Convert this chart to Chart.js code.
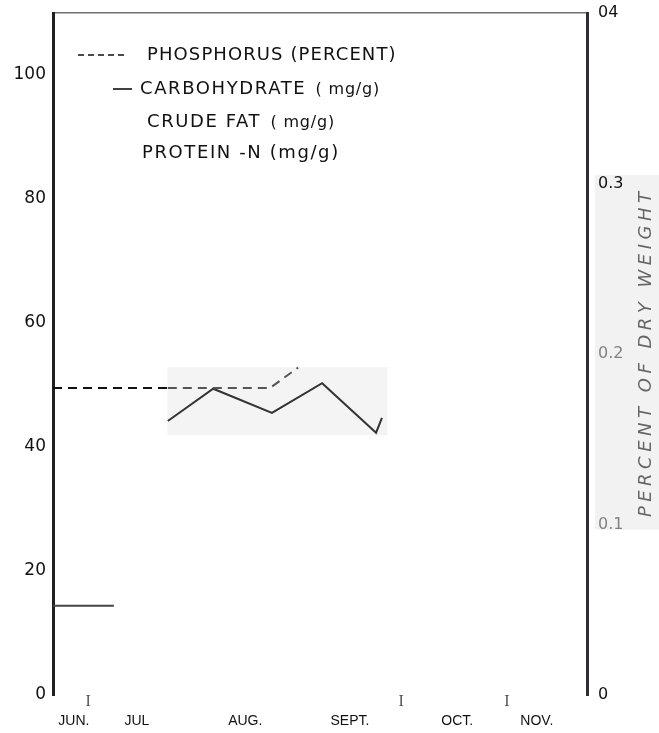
<!DOCTYPE html>
<html>
<head>
<meta charset="utf-8">
<script src="https://cdn.jsdelivr.net/npm/chart.js@4.4.1/dist/chart.umd.min.js"></script>
<style>
  html, body { margin: 0; padding: 0; background: #fff; }
</style>
</head>
<body>
<canvas id="chart" width="659" height="733"></canvas>
<script>
// season axis, in months from the left axis
const monthLabels = ['JUN.', 'JUL', 'AUG.', 'SEPT.', 'OCT.', 'NOV.'];
const monthPos = [0.39, 1.57, 3.6, 5.56, 7.57, 9.06];
const markPos = [0.66, 6.52, 8.5];

// phosphorus, percent of dry weight (right axis)
const phosX = [0, 2.15, 4.06, 4.59];
const phosY = [0.18, 0.18, 0.18, 0.192];
// carbohydrate, mg/g (left axis)
const carbX = [2.15, 3.0, 4.1, 5.04, 6.05, 6.16];
const carbY = [44.2, 49.4, 45.5, 50.3, 42.3, 44.7];
// crude fat, mg/g (left axis)
const fatX = [0, 1.14];
const fatY = [14.4, 14.4];

const leftTicks = [0, 20, 40, 60, 80, 100];
const rightTicks = [0, 0.1, 0.2, 0.3, 0.4];
const rightTickLabels = ['0', '0.1', '0.2', '0.3', '04'];
const rightTickColors = ['#111', '#8a8a8a', '#8a8a8a', '#111', '#111'];

function pts(xs, ys) {
    return xs.map((x, i) => ({ x: x, y: ys[i] }));
}

function noPad(s) {
    s.paddingTop = 0;
    s.paddingBottom = 0;
    s.paddingLeft = 0;
    s.paddingRight = 0;
}

// faint grey scan patches behind the lines and the right axis title
const patchPlugin = {
    id: 'patches',
    beforeDatasetsDraw(chart) {
        const { ctx, scales } = chart;
        const x0 = scales.x.getPixelForValue(2.14), x1 = scales.x.getPixelForValue(6.26);
        const y0 = scales.yL.getPixelForValue(52.9), y1 = scales.yL.getPixelForValue(41.9);
        ctx.save();
        ctx.fillStyle = 'rgba(0,0,0,0.045)';
        ctx.fillRect(x0, y0, x1 - x0, y1 - y0);
        const r = scales.yR;
        const ry0 = r.getPixelForValue(0.305), ry1 = r.getPixelForValue(0.097);
        ctx.fillStyle = 'rgba(0,0,0,0.05)';
        ctx.fillRect(r.left + 8, ry0, chart.width - r.left - 8, ry1 - ry0);
        ctx.restore();
    },
    afterDraw(chart) {
        const { ctx, scales } = chart;
        const r = scales.yR;
        const cy = (r.getPixelForValue(0.305) + r.getPixelForValue(0.097)) / 2;
        ctx.save();
        ctx.translate(646, cy);
        ctx.rotate(-Math.PI / 2);
        ctx.font = 'italic 18px "DejaVu Sans"';
        ctx.letterSpacing = '4.5px';
        ctx.fillStyle = '#666';
        ctx.textAlign = 'center';
        ctx.textBaseline = 'middle';
        ctx.fillText('PERCENT OF DRY WEIGHT', 0, 0);
        ctx.restore();
    }
};

// legend drawn as text rows inside the plot, like the original
const textLegend = {
    id: 'textLegend',
    afterDraw(chart) {
        const { ctx } = chart;
        const rows = [
            { y: 55, x: 147, sample: [78, 126] },
            { y: 89, x: 140, sample: [113, 132] },
            { y: 122, x: 147 },
            { y: 153, x: 142 }
        ];
        ctx.save();
        ctx.fillStyle = '#111';
        ctx.textBaseline = 'middle';
        chart.data.datasets.forEach((ds, i) => {
            const row = rows[i];
            if (!row) return;
            if (row.sample) {
                ctx.beginPath();
                ctx.strokeStyle = '#111';
                ctx.lineWidth = 1.6;
                ctx.setLineDash(ds.borderDash ? [6, 4] : []);
                ctx.moveTo(row.sample[0], row.y);
                ctx.lineTo(row.sample[1], row.y);
                ctx.stroke();
                ctx.setLineDash([]);
            }
            const cut = ds.label.indexOf('( mg/g)');
            const main = cut >= 0 ? ds.label.slice(0, cut) : ds.label;
            ctx.font = '18px "DejaVu Sans"';
            ctx.letterSpacing = i === 0 ? '1.1px' : '1.6px';
            ctx.fillText(main, row.x, row.y);
            if (cut >= 0) {
                const w = ctx.measureText(main).width;
                ctx.font = '16px "DejaVu Sans"';
                ctx.letterSpacing = '0.8px';
                ctx.fillText(ds.label.slice(cut), row.x + w + 2, row.y + 1);
            }
        });
        ctx.restore();
    }
};

document.addEventListener('DOMContentLoaded', () => {
    const ctx = document.getElementById('chart').getContext('2d');

    new Chart(ctx, {
        type: 'line',
        data: {
            datasets: [{
                label: 'PHOSPHORUS (PERCENT)',
                data: pts(phosX, phosY),
                yAxisID: 'yR',
                borderColor: '#222',
                borderWidth: 2,
                borderDash: [9, 6],
                segment: {
                    borderColor: c => c.p0DataIndex === 0 ? '#111' : '#555'
                },
                pointRadius: 0,
                tension: 0
            }, {
                label: 'CARBOHYDRATE ( mg/g)',
                data: pts(carbX, carbY),
                yAxisID: 'yL',
                borderColor: '#333',
                borderWidth: 2,
                pointRadius: 0,
                tension: 0
            }, {
                label: 'CRUDE FAT ( mg/g)',
                data: pts(fatX, fatY),
                yAxisID: 'yL',
                borderColor: '#444',
                borderWidth: 2,
                pointRadius: 0,
                tension: 0
            }, {
                label: 'PROTEIN -N (mg/g)',
                data: [],
                yAxisID: 'yL',
                borderColor: '#444',
                borderWidth: 2,
                pointRadius: 0
            }]
        },
        options: {
            responsive: false,
            animation: false,
            devicePixelRatio: 1,
            layout: { padding: 0 },
            plugins: {
                legend: { display: false },
                tooltip: { enabled: false }
            },
            scales: {
                xTop: {
                    type: 'linear',
                    position: 'top',
                    min: 0,
                    max: 10,
                    ticks: { display: false },
                    grid: { display: false, drawTicks: false },
                    border: { display: true, color: '#707070', width: 1.5 },
                    afterFit: s => { s.height = 13; noPad(s); }
                },
                x: {
                    type: 'linear',
                    position: 'bottom',
                    weight: 1,
                    min: 0,
                    max: 10,
                    afterBuildTicks: s => { s.ticks = markPos.map(v => ({ value: v })); },
                    ticks: {
                        autoSkip: false,
                        maxRotation: 0,
                        padding: -3,
                        callback: () => 'I',
                        color: '#555',
                        font: { family: 'Liberation Serif', size: 16 }
                    },
                    grid: { display: false, drawTicks: false },
                    border: { display: false },
                    afterFit: s => { s.height = 16; noPad(s); }
                },
                x2: {
                    type: 'linear',
                    position: 'bottom',
                    weight: 2,
                    min: 0,
                    max: 10,
                    afterBuildTicks: s => { s.ticks = monthPos.map(v => ({ value: v })); },
                    ticks: {
                        autoSkip: false,
                        maxRotation: 0,
                        padding: 2,
                        callback: (v, i) => monthLabels[i],
                        color: '#111',
                        font: { family: 'Liberation Sans', size: 14 }
                    },
                    grid: { display: false, drawTicks: false },
                    border: { display: false },
                    afterFit: s => { s.height = 22; noPad(s); }
                },
                yL: {
                    type: 'linear',
                    position: 'left',
                    min: 0,
                    max: 110,
                    afterBuildTicks: s => { s.ticks = leftTicks.map(v => ({ value: v })); },
                    ticks: {
                        padding: 7,
                        callback: v => String(v),
                        color: '#111',
                        font: { family: 'DejaVu Sans', size: 17 }
                    },
                    grid: { display: false, drawTicks: false },
                    border: { display: true, color: '#231f20', width: 3 },
                    afterFit: s => { s.width = 53; noPad(s); }
                },
                yR: {
                    type: 'linear',
                    position: 'right',
                    min: 0,
                    max: 0.4,
                    afterBuildTicks: s => { s.ticks = rightTicks.map(v => ({ value: v })); },
                    ticks: {
                        padding: 11,
                        callback: (v, i) => rightTickLabels[i],
                        color: c => rightTickColors[c.index],
                        font: { family: 'DejaVu Sans', size: 16 }
                    },
                    grid: { display: false, drawTicks: false },
                    border: { display: true, color: '#2d2d33', width: 3 },
                    afterFit: s => { s.width = 72; noPad(s); }
                }
            }
        },
        plugins: [patchPlugin, textLegend]
    });
});
</script>
</body>
</html>
